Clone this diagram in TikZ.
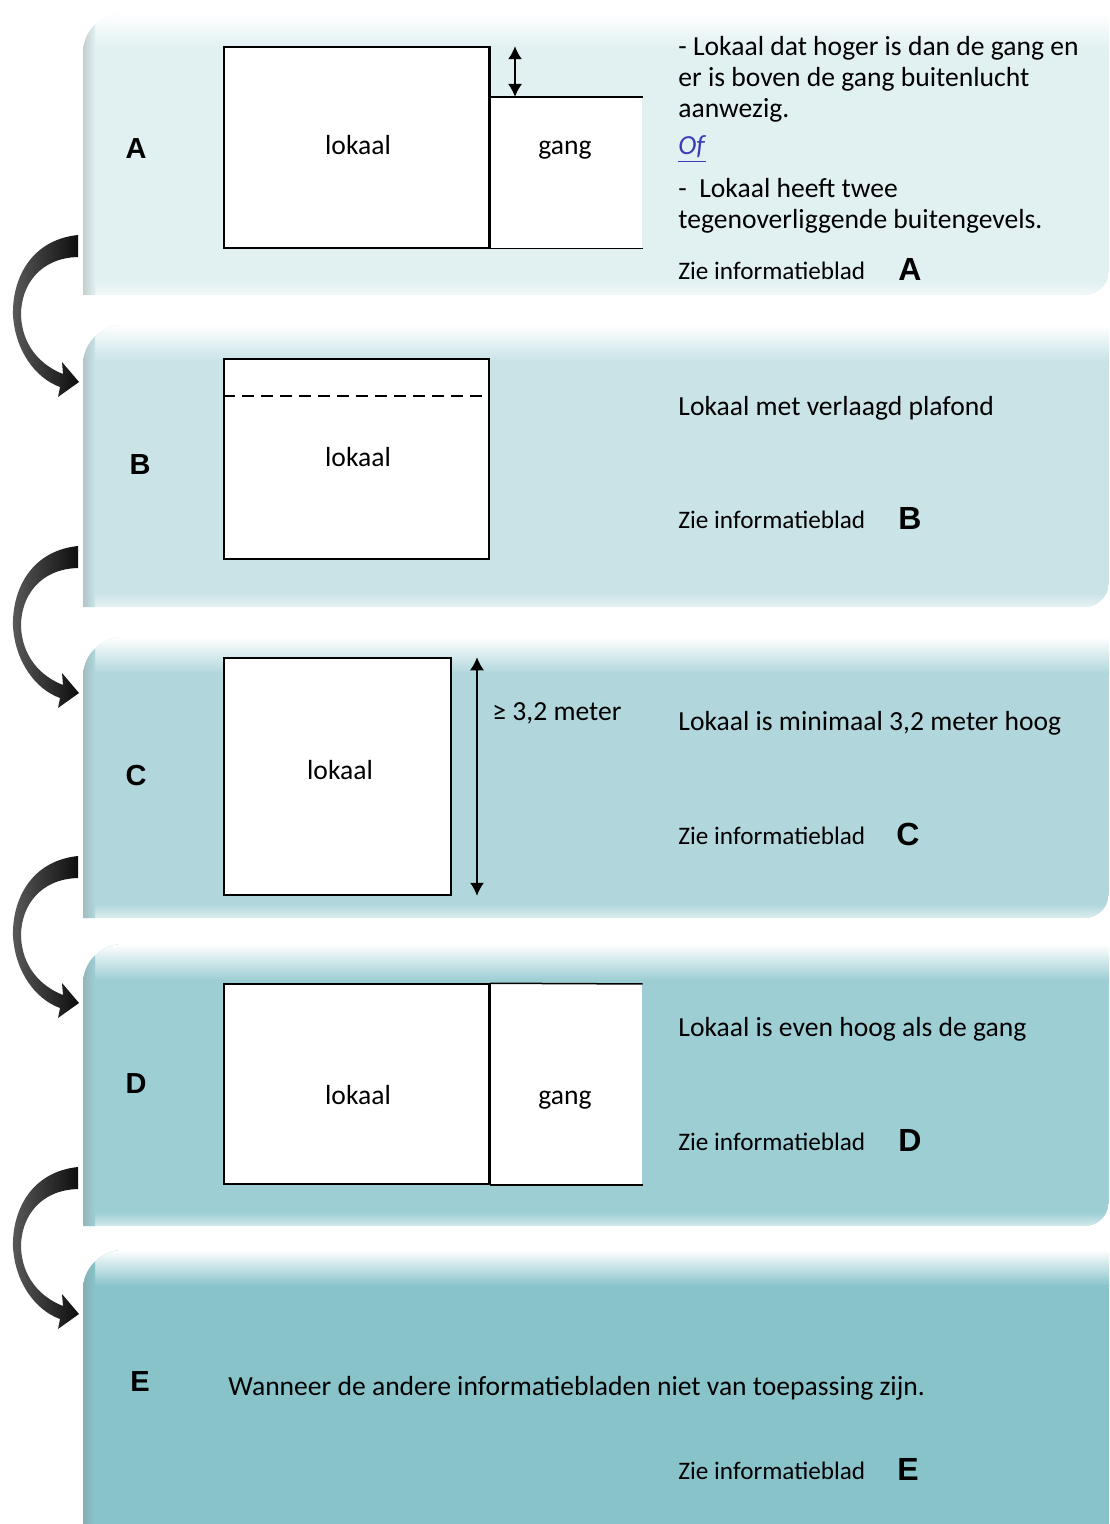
\documentclass[tikz,border=0pt]{standalone}
\usepackage{fontspec}
\setmainfont{Carlito}
\newfontfamily\letterfont{Liberation Sans}
\usetikzlibrary{arrows.meta}
\definecolor{pA}{HTML}{E1F0F1}
\definecolor{pB}{HTML}{C9E3E7}
\definecolor{pC}{HTML}{B1D7DC}
\definecolor{pD}{HTML}{9DCED4}
\definecolor{pE}{HTML}{88C3CA}
\definecolor{ofblue}{HTML}{3C3CB4}
\tikzset{
  txt/.style={anchor=base west, inner sep=0pt, font=\fontsize{13.8}{16}\selectfont},
  zie/.style={anchor=base west, inner sep=0pt, font=\fontsize{12.6}{14}\selectfont},
  bigletter/.style={anchor=base, inner sep=0pt, font=\letterfont\bfseries\fontsize{14.5}{16}\selectfont},
  refletter/.style={anchor=base, inner sep=0pt, font=\letterfont\bfseries\fontsize{16}{18}\selectfont},
  room/.style={draw, line width=0.75pt, fill=white, inner sep=0pt},
  gangbox/.style={fill=white, inner sep=0pt},
  roomlabel/.style={anchor=base, inner sep=0pt, font=\fontsize{13.8}{16}\selectfont},
  wall/.style={line width=0.75pt},
  dim/.style={line width=0.8pt, {Latex[length=6.5pt,width=7pt]}-{Latex[length=6.5pt,width=7pt]}},
}

\begin{document}
\begin{tikzpicture}[x=0.5pt,y=-0.5pt]
\useasboundingbox (0,0) rectangle (1109,1524);
\clip (0,0) rectangle (1109,1524);
% panels
\foreach \ytop/\ybot/\col in {13/295/pA,325/607/pB,637/918/pC,944/1226/pD,1250/1600/pE}{
\begin{scope}
\clip (83,\ybot) -- (83,\ytop+40) .. controls (83,\ytop+18) and (101,\ytop) .. (123,\ytop)
  -- (1109,\ytop) -- (1109,\ybot-25) .. controls (1109,\ybot-11) and (1098,\ybot) .. (1084,\ybot) -- cycle;
\fill[\col] (83,\ytop) rectangle (1109,\ybot);
\shade[top color=white, bottom color=\col] (83,\ytop) rectangle (1109,\ytop+36);
\shade[top color=\col, bottom color=white!55!\col] (83,\ybot-14) rectangle (1109,\ybot);
\shade[left color=\col!70!gray, right color=\col] (83,\ytop) rectangle (95,\ybot);
\end{scope}
}
% curved arrows between panels
\foreach \dy in {0,311,621,932}{
\begin{scope}[shift={(0,\dy)}]
\shade[left color=black!65, right color=black!95]
  (78,235) .. controls (30,240) and (12,280) .. (13,315)
  .. controls (15,350) and (35,378) .. (60,387) -- (58,397) -- (79,382) -- (62,362) -- (63,374)
  .. controls (40,365) and (22,345) .. (21,315)
  .. controls (21,285) and (40,258) .. (78,257) -- cycle;
\end{scope}
}

% A
\node[bigletter] (letA) at (136,159) {A};
\node[room, minimum width=132.5pt, minimum height=100.5pt] (lokA) at (356.5,147.5) {};
\node[gangbox, minimum width=76pt, minimum height=75.5pt, anchor=south west] (gangA) at (lokA.south east) {};
\draw[wall] (lokA.east |- gangA.north) -- (gangA.north east);
\draw[wall] (lokA.south east) -- (gangA.south east);
\draw[wall] (lokA.north east) -- (lokA.south east);
\coordinate (dA) at (515,0);
\draw[dim] (dA |- lokA.north) -- (dA |- gangA.north);
\node[roomlabel] (labA1) at (358,155) {lokaal};
\node[roomlabel] (labA2) at (565,155) {gang};
\node[txt] (tA1) at (678,56) {- Lokaal dat hoger is dan de gang en};
\node[txt] (tA2) at (678,87) {er is boven de gang buitenlucht};
\node[txt] (tA3) at (678,118) {aanwezig.};
\node[txt, text=ofblue] (ofA) at (678,155) {\underline{\textit{Of}}};
\node[txt] (tA4) at (678,198) {-\ \ Lokaal heeft twee};
\node[txt] (tA5) at (678,229) {tegenoverliggende buitengevels.};
\node[zie] (zieA) at (678,280) {Zie informatieblad};
\node[refletter] (refA) at (910,281) {A};

% B
\node[bigletter] (letB) at (140,474) {B};
\node[room, minimum width=132.5pt, minimum height=100pt] (lokB) at (356.5,459) {};
\coordinate (dB) at (0,396);
\draw[wall, dash pattern=on 6pt off 3.5pt] (lokB.west |- dB) -- (lokB.east |- dB);
\node[roomlabel] (labB) at (358,466) {lokaal};
\node[txt] (tB) at (678,415) {Lokaal met verlaagd plafond};
\node[zie] (zieB) at (678,528) {Zie informatieblad};
\node[refletter] (refB) at (910,529) {B};

% C
\node[bigletter] (letC) at (136,785) {C};
\node[room, minimum width=113.5pt, minimum height=118.5pt] (lokC) at (337.5,776.5) {};
\coordinate (dC) at (477,0);
\draw[dim] (dC |- lokC.north) -- (dC |- lokC.south);
\node[roomlabel] (labC) at (340,779) {lokaal};
\node[txt] (hC) at (492,720) {≥ 3,2 meter};
\node[txt] (tC) at (678,730) {Lokaal is minimaal 3,2 meter hoog};
\node[zie] (zieC) at (678,844) {Zie informatieblad};
\node[refletter] (refC) at (908,845) {C};

% D
\node[bigletter] (letD) at (136,1093) {D};
\node[room, minimum width=132.5pt, minimum height=100pt] (lokD) at (356.5,1084) {};
\node[gangbox, minimum width=76pt, minimum height=100pt, anchor=south west] (gangD) at (lokD.south east) {};
\draw[wall] (lokD.north east) -- (gangD.north east);
\draw[wall] (lokD.south east) -- (gangD.south east);
\draw[wall] (lokD.north east) -- (lokD.south east);
\node[roomlabel] (labD1) at (358,1104) {lokaal};
\node[roomlabel] (labD2) at (565,1104) {gang};
\node[txt] (tD) at (678,1036) {Lokaal is even hoog als de gang};
\node[zie] (zieD) at (678,1150) {Zie informatieblad};
\node[refletter] (refD) at (910,1151) {D};

% E
\node[bigletter] (letE) at (140,1391) {E};
\node[txt] (tE) at (228,1395) {Wanneer de andere informatiebladen niet van toepassing zijn.};
\node[zie] (zieE) at (678,1479) {Zie informatieblad};
\node[refletter] (refE) at (908,1480) {E};
\end{tikzpicture}
\end{document}
